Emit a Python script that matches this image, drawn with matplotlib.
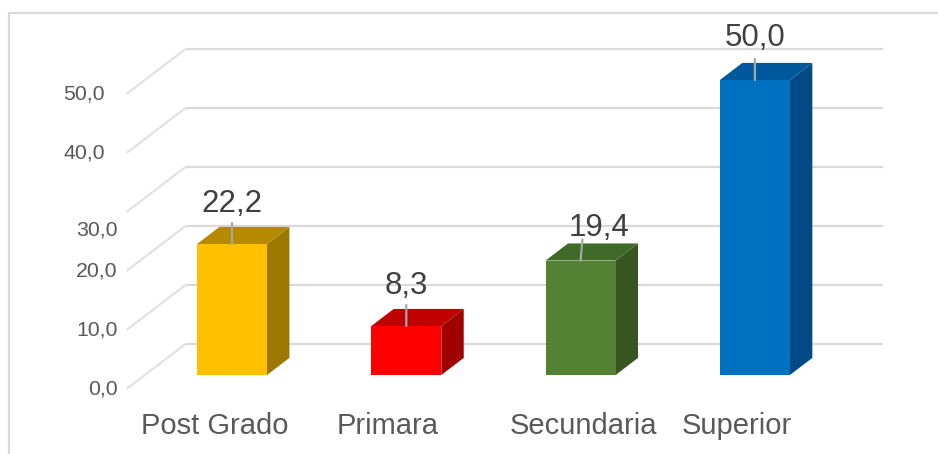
import matplotlib
matplotlib.use("Agg")
import matplotlib.pyplot as plt
from matplotlib.patches import Polygon, Rectangle

# ---- data ----
categories = ["Post Grado", "Primara", "Secundaria", "Superior"]
values = [22.2, 8.3, 19.4, 50.0]
value_labels = ["22,2", "8,3", "19,4", "50,0"]
tick_values = [0, 10, 20, 30, 40, 50]
tick_labels = ["0,0", "10,0", "20,0", "30,0", "40,0", "50,0"]

# ---- styles ----
front_colors = ["#FFC000", "#FF0000", "#548235", "#0070C0"]
top_colors = ["#B58A00", "#C00000", "#3F6A28", "#00589C"]
side_colors = ["#9C7800", "#A00000", "#365521", "#004A85"]
# label nudges in pixels (dx, dy) -- layout only
value_nudge_px = [(0, 0), (0, 0), (18, 7), (0, -2)]
cat_nudge_px = [-17, -19, 3, -18]
tick_nudge_px = [(0, 0), (0, 0), (0, 0), (0, 18), (-13, 0), (-13, 0)]

W, H, DPI = 938, 454, 100
fig = plt.figure(figsize=(W / DPI, H / DPI), dpi=DPI)
fig.patch.set_facecolor("white")
ax = fig.add_axes([0, 0, 1, 1])
ax.set_axis_off()

# pixel geometry of the pseudo-3D projection
PX_PER_CAT = 174.3
PX_PER_VAL = 5.9
CX0, VY0 = 232.0, 375.0  # pixel x of category 0, pixel y of value 0 (bar plane)
ax.set_xlim(-CX0 / PX_PER_CAT, (W - CX0) / PX_PER_CAT)
ax.set_ylim((VY0 - H) / PX_PER_VAL, VY0 / PX_PER_VAL)

DX = 59.0 / PX_PER_CAT      # depth shift (category units) for full depth
DY = 45.0 / PX_PER_VAL      # depth shift (value units) for full depth
D_FRONT, D_BACK = 0.31, 0.69  # bar front/back depth
D_REF = D_FRONT


def P(i, v, d):
    return (i + (d - D_REF) * DX, v + (d - D_REF) * DY)


grid_c = "#D9D9D9"
n = len(categories)
x_lo, x_hi = -0.5, n - 0.5

# gridlines: back wall + left side wall
for v in tick_values:
    a, b = P(x_lo, v, 1), P(x_hi, v, 1)
    ax.plot([a[0], b[0]], [a[1], b[1]], color=grid_c, lw=1.6, zorder=1,
            solid_capstyle="butt")
    c = P(x_lo, v, 0)
    ax.plot([c[0], a[0]], [c[1], a[1]], color="#E0E0E0", lw=1.5, zorder=1,
            solid_capstyle="butt")

# tick labels
px2pt = 72.0 / DPI
for v, lab, (nx, ny) in zip(tick_values, tick_labels, tick_nudge_px):
    c = P(x_lo, v, 0)
    ax.annotate(lab, xy=c, xytext=((-9 + nx) * px2pt, -ny * px2pt),
                textcoords="offset points", ha="right", va="center",
                fontsize=15.3, color="#595959", family="Liberation Sans")

# bars
bw = 70.0 / PX_PER_CAT
for i, (v, fc, tc, sc) in enumerate(zip(values, front_colors, top_colors, side_colors)):
    l, r = i - bw / 2, i + bw / 2
    fl0, fr0 = P(l, 0, D_FRONT), P(r, 0, D_FRONT)
    flv, frv = P(l, v, D_FRONT), P(r, v, D_FRONT)
    bl_v, br_v = P(l, v, D_BACK), P(r, v, D_BACK)
    br0 = P(r, 0, D_BACK)
    ax.add_patch(Polygon([fr0, frv, br_v, br0], closed=True, facecolor=sc,
                         edgecolor="none", zorder=3))
    ax.add_patch(Polygon([flv, frv, br_v, bl_v], closed=True, facecolor=tc,
                         edgecolor="none", zorder=3))
    ax.add_patch(Polygon([fl0, fr0, frv, flv], closed=True, facecolor=fc,
                         edgecolor="none", zorder=4))

# value labels with leader lines
for i, (v, lab, (nx, ny)) in enumerate(zip(values, value_labels, value_nudge_px)):
    top = P(i, v, D_FRONT)
    ax.annotate(lab, xy=top, xytext=(nx * px2pt, (40 - ny) * px2pt),
                textcoords="offset points", ha="center", va="center",
                fontsize=22.5, color="#404040", family="Liberation Sans",
                zorder=6)
    ax.annotate("", xy=top, xytext=(nx * 0.1 * px2pt, 21 * px2pt),
                textcoords="offset points",
                arrowprops=dict(arrowstyle="-", color="#A6A6A6", lw=1.6,
                                shrinkA=0, shrinkB=0), zorder=5)

# category labels
for i, (cat, nx) in enumerate(zip(categories, cat_nudge_px)):
    base = P(i, 0, D_FRONT)
    ax.annotate(cat, xy=base, xytext=(nx * px2pt, -51 * px2pt),
                textcoords="offset points", ha="center", va="center",
                fontsize=21, color="#595959", family="Liberation Sans")

# chart frame
fig.add_artist(Rectangle((9 / W, -0.1), 1.2, (H - 13) / H + 0.1,
                         transform=fig.transFigure, fill=False,
                         edgecolor="#D9D9D9", lw=1.6))

fig.savefig("out.png", dpi=DPI)
